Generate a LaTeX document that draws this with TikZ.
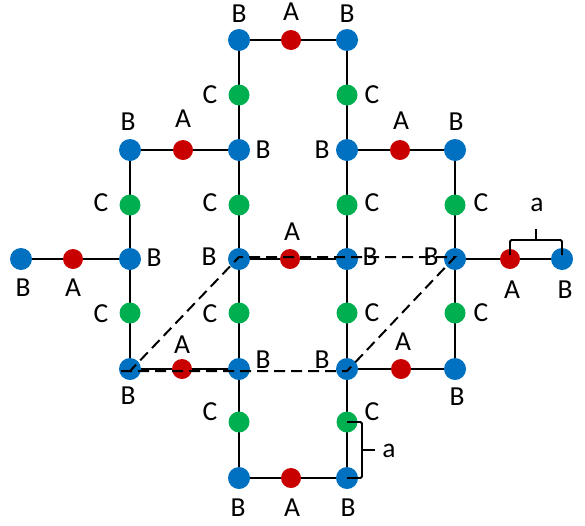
\documentclass[tikz,border=0pt]{standalone}
\usepackage{fontspec}
\setmainfont{Carlito}
\usetikzlibrary{calc}
\definecolor{siteblue}{RGB}{0,112,192}
\definecolor{sitered}{RGB}{200,0,0}
\definecolor{sitegreen}{RGB}{0,176,80}
\pgfdeclarelayer{bonds}
\pgfsetlayers{bonds,main}
\begin{document}
\begin{tikzpicture}[x=1pt,y=-1pt,
  site/.style={circle,inner sep=0pt,draw=none},
  bsite/.style={site,fill=siteblue,minimum size=22pt},
  asite/.style={site,fill=sitered,minimum size=20pt},
  csite/.style={site,fill=sitegreen,minimum size=21pt},
  bond/.style={line width=2pt},
  cell/.style={line width=2pt,dash pattern=on 11pt off 6pt},
  brace/.style={line width=1.8pt,rounded corners=1.5pt},
  lab/.style={font=\fontsize{27.5}{27.5}\selectfont,inner sep=0pt}]
\useasboundingbox (0,0) rectangle (585,525);

% B sites (column/row indices)
\foreach \n/\x/\y in {20/239/40,30/347/40,
  11/130/150,21/239/150,31/347/150,41/455/150,
  02/21/259,12/130/259,22/239/259,32/347/259,42/455/259,52/562/259,
  13/130/369,23/239/369,33/347/369,43/455/369,
  24/239/478,34/347/478}
  \node[bsite] (b\n) at (\x,\y) {};

% A sites on the horizontal bonds
\foreach \n/\x/\y in {20/291/40,11/183/150,31/400/150,
  02/73/259,22/290/259,42/510/259,13/182/369,33/401/369,24/291/478}
  \node[asite] (a\n) at (\x,\y) {};

% C sites on the vertical bonds
\foreach \n/\x/\y in {20/239/95,30/347/95,
  11/130/205,21/239/205,31/347/205,41/455/205,
  12/130/313,22/239/313,32/347/313,42/455/313,
  23/239/422,33/347/422}
  \node[csite] (c\n) at (\x,\y) {};

% solid bonds, beneath the sites
\begin{pgfonlayer}{bonds}
  \draw[bond] (b20.center) -- (a20.center) -- (b30.center);
  \draw[bond] (b20.center) -- (c20.center) -- (b21.center) -- (c21.center) -- (b22.center)
    -- (c22.center) -- (b23.center) -- (c23.center) -- (b24.center);
  \draw[bond] (b30.center) -- (c30.center) -- (b31.center) -- (c31.center) -- (b32.center)
    -- (c32.center) -- (b33.center) -- (c33.center) -- (b34.center);
  \draw[bond] (b24.center) -- (a24.center) -- (b34.center);
  \draw[bond] (b11.center) -- (a11.center) -- (b21.center);
  \draw[bond] (b31.center) -- (a31.center) -- (b41.center);
  \draw[bond] (b11.center) -- (c11.center) -- (b12.center) -- (c12.center) -- (b13.center);
  \draw[bond] (b41.center) -- (c41.center) -- (b42.center) -- (c42.center) -- (b43.center);
  \draw[bond] (b02.center) -- (a02.center) -- (b12.center);
  \draw[bond] (b22.center) -- (a22.center) -- (b32.center);
  \draw[bond] (b42.center) -- (a42.center) -- (b52.center);
  \draw[bond] (b13.center) -- (a13.center) -- (b23.center);
  \draw[bond] (b33.center) -- (a33.center) -- (b43.center);
\end{pgfonlayer}

% dashed unit cell, on top of the sites
\draw[cell] ([xshift=-9pt,yshift=-2pt]b13.center) -- ([yshift=-2pt]b33.center)
  -- ([yshift=2pt]b42.center) -- ([yshift=2pt]b22.center) -- ([yshift=-2pt]b13.center);

% bracket over the A--B spacing
\draw[brace] ([yshift=4pt]a42.center) -- ([yshift=19pt]a42.center)
  -- ([yshift=19pt]b52.center) -- ([yshift=4pt]b52.center);
\coordinate (tk1) at ($(a42.center)!0.5!(b52.center)+(0,-19)$);
\draw[brace] (tk1) -- ++(0,-11);
\node[lab] (la1) at (537,205) {a};

% bracket beside the C--B spacing
\draw[brace] (c33.center) -- ([xshift=15pt]c33.center)
  -- ([xshift=15pt]b34.center) -- (b34.center);
\coordinate (tk2) at ($(c33.center)!0.5!(b34.center)+(15,0)$);
\draw[brace] (tk2) -- ++(13,0);
\node[lab] (la2) at (389,451) {a};

% site labels
\foreach \n/\x/\y/\t in {
  1/239/14/B,2/291/12/A,3/347/14/B,
  4/210/95/C,5/372/95/C,
  6/128/122/B,7/183/119/A,8/263/150/B,9/322/150/B,10/401/121/A,11/456/122/B,
  12/101/203/C,13/210/203/C,14/372/203/C,15/481/203/C,
  16/23/288/B,17/73/288/A,18/154/258/B,19/209/257/B,20/292/232/A,
  21/370/257/B,22/431/257/B,23/512/290/A,24/565/290/B,
  25/101/314/C,26/210/314/C,27/372/313/C,28/481/313/C,
  29/128/396/B,30/182/345/A,31/263/360/B,32/322/360/B,33/403/342/A,34/457/397/B,
  35/210/412/C,36/372/412/C,
  37/238/508/B,38/292/508/A,39/348/508/B}
  \node[lab] (t\n) at (\x,\y) {\t};
\end{tikzpicture}
\end{document}
